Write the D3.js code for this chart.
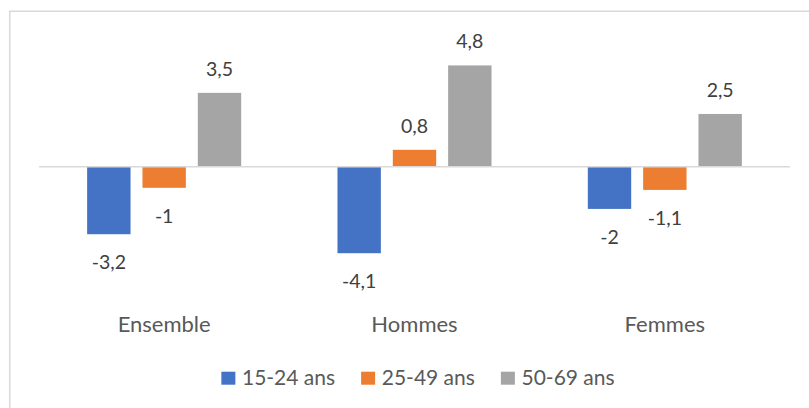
<!DOCTYPE html>
<html>
<head>
<meta charset="utf-8">
<script src="https://cdn.jsdelivr.net/npm/d3@7"></script>
<style>
  html, body { margin: 0; padding: 0; background: #fff; }
  svg { display: block; }
  text { font-family: Lato, "Open Sans", sans-serif; }
</style>
</head>
<body>
<div id="chart"></div>
<script>
const categories = ["Ensemble", "Hommes", "Femmes"];
const series = ["15-24 ans", "25-49 ans", "50-69 ans"];
const values = [
  [-3.2, -1, 3.5],
  [-4.1, 0.8, 4.8],
  [-2, -1.1, 2.5]
];
const colors = ["#4472C4", "#ED7D31", "#A5A5A5"];

const fmt = v => String(v).replace(".", ",");

const width = 809, height = 408;

const svg = d3.select("#chart").append("svg")
  .attr("width", width)
  .attr("height", height);

// chart frame (runs off the right and bottom edges)
svg.append("rect")
  .attr("x", 9.75).attr("y", 11.25)
  .attr("width", 900).attr("height", 500)
  .attr("fill", "none")
  .attr("stroke", "#d9d9d9")
  .attr("stroke-width", 1.5);

const y = d3.scaleLinear().domain([-6, 6]).range([293.3, 40.1]);

const x0 = d3.scaleBand().domain(categories).range([39, 790]);
const x1 = d3.scaleBand().domain(series)
  .range([0, x0.bandwidth()])
  .paddingInner(0.216)
  .paddingOuter(0.87);

const groups = svg.selectAll("g.cat")
  .data(categories)
  .enter()
  .append("g")
  .attr("class", "cat")
  .attr("transform", d => "translate(" + x0(d) + ",0)");

const bars = groups.selectAll("g.bar")
  .data((d, i) => series.map((s, j) => ({s: s, v: values[i][j], j: j})))
  .enter()
  .append("g")
  .attr("class", "bar");

bars.append("rect")
  .attr("x", d => x1(d.s))
  .attr("width", x1.bandwidth())
  .attr("y", d => y(Math.max(0, d.v)))
  .attr("height", d => Math.abs(y(d.v) - y(0)))
  .attr("fill", d => colors[d.j]);

bars.append("text")
  .attr("x", d => x1(d.s) + x1.bandwidth() / 2)
  .attr("y", d => d.v >= 0 ? y(d.v) - 17 : y(d.v) + 35)
  .attr("text-anchor", "middle")
  .attr("font-size", 19.5)
  .attr("fill", "#404040")
  .text(d => fmt(d.v));

// zero line
svg.append("line")
  .attr("x1", 39).attr("x2", 790)
  .attr("y1", y(0)).attr("y2", y(0))
  .attr("stroke", "#d9d9d9")
  .attr("stroke-width", 1.5);

// category labels
svg.selectAll("text.catlabel")
  .data(categories)
  .enter()
  .append("text")
  .attr("class", "catlabel")
  .attr("x", d => x0(d) + x0.bandwidth() / 2)
  .attr("y", 332.3)
  .attr("text-anchor", "middle")
  .attr("font-size", 22)
  .attr("fill", "#595959")
  .text(d => d);

// legend
const legend = svg.append("g");
const items = legend.selectAll("g")
  .data(series)
  .enter()
  .append("g");

items.append("rect")
  .attr("width", 14).attr("height", 13)
  .attr("y", 371.7)
  .attr("fill", (d, i) => colors[i]);

items.append("text")
  .attr("x", 20.6)
  .attr("y", 385)
  .attr("font-size", 21)
  .attr("fill", "#595959")
  .text(d => d);

let offset = 0;
const pos = [];
items.each(function() {
  const w = d3.select(this).select("text").node().getComputedTextLength();
  pos.push(offset);
  offset += 20.6 + w + 26;
});
const total = offset - 26;
const start = 418 - total / 2;
items.attr("transform", (d, i) => "translate(" + (start + pos[i]) + ",0)");
</script>
</body>
</html>
